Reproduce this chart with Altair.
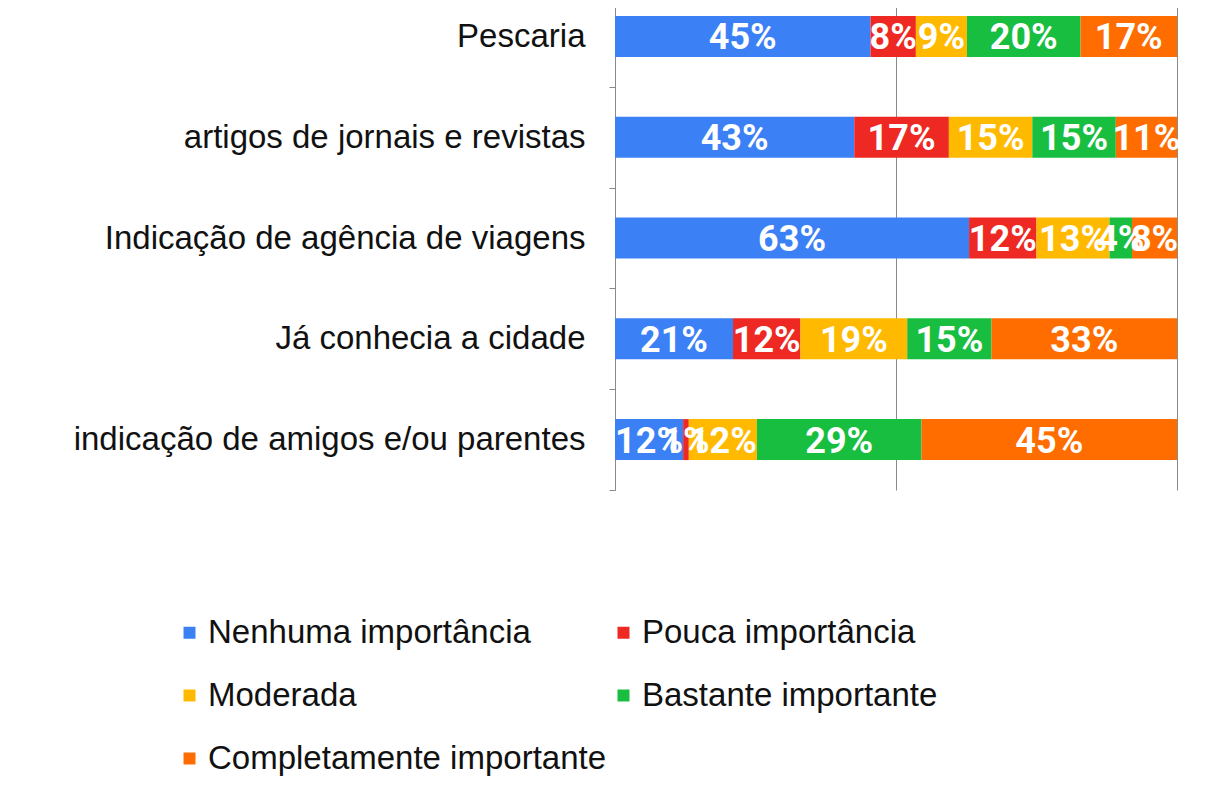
import altair as alt
import pandas as pd

categories = [
    "Pescaria",
    "artigos de jornais e revistas",
    "Indicação de agência de viagens",
    "Já conhecia a cidade",
    "indicação de amigos e/ou parentes",
]
levels = [
    "Nenhuma importância",
    "Pouca importância",
    "Moderada",
    "Bastante importante",
    "Completamente importante",
]
colors = ["#3C80F6", "#EE2822", "#FFBA00", "#17BE3F", "#FF6D00"]

nenhuma = [45, 43, 63, 21, 12]
pouca = [8, 17, 12, 12, 1]
moderada = [9, 15, 13, 19, 12]
bastante = [20, 15, 4, 15, 29]
completa = [17, 11, 8, 33, 45]

series = [nenhuma, pouca, moderada, bastante, completa]
rows = []
for li, (lev, vals) in enumerate(zip(levels, series)):
    for cat, v in zip(categories, vals):
        rows.append({"cat": cat, "level": lev, "idx": li, "value": v})
df = pd.DataFrame(rows)

FONT = "Liberation Sans"
LABEL_FONT = "Roboto"

base = (
    alt.Chart(df)
    .transform_stack(
        stack="value",
        groupby=["cat"],
        as_=["x0", "x1"],
        offset="normalize",
        sort=[alt.SortField("idx", order="ascending")],
    )
    .transform_calculate(mid="(datum.x0 + datum.x1) / 2", label="datum.value + '%'")
)

y_enc = alt.Y(
    "cat:N",
    sort=categories,
    scale=alt.Scale(paddingInner=0, paddingOuter=0),
    axis=alt.Axis(
        title=None,
        labelFont=FONT,
        labelFontSize=33,
        labelColor="#111111",
        labelLimit=700,
        labelPadding=24,
        tickSize=6,
        tickColor="#8a8a8a",
        domainColor="#8a8a8a",
        tickBand="extent",
        grid=False,
    ),
)

x_axis = alt.Axis(
    title=None,
    labels=False,
    ticks=False,
    domain=False,
    grid=True,
    values=[0, 0.5, 1],
    gridColor="#8a8a8a",
    gridWidth=1,
    gridOpacity=1,
)

bars = base.mark_bar(size=41).encode(
    y=y_enc,
    x=alt.X("x0:Q", scale=alt.Scale(domain=[0, 1], nice=False), axis=x_axis),
    x2="x1:Q",
    color=alt.Color(
        "level:N",
        scale=alt.Scale(domain=levels, range=colors),
        legend=alt.Legend(
            title=None,
            orient="none",
            direction="horizontal",
            legendX=-442,
            legendY=630,
            columns=2,
            symbolType="square",
            symbolSize=144,
            symbolStrokeWidth=0,
            labelFont=FONT,
            labelFontSize=33,
            labelColor="#111111",
            labelLimit=700,
            labelOffset=2,
            rowPadding=29,
            columnPadding=-8,
        ),
    ),
)

texts = base.mark_text(
    font=LABEL_FONT,
    fontSize=36,
    fontWeight="bold",
    color="white",
    baseline="middle",
    align="center",
    dy=2,
).encode(
    y=alt.Y("cat:N", sort=categories),
    x=alt.X("mid:Q"),
    text="label:N",
)

chart = (
    alt.layer(bars, texts)
    .properties(
        width=562,
        height=504,
        autosize=alt.AutoSizeParams(type="none"),
        padding={"left": 607, "top": -22, "right": 20, "bottom": 300},
        background="white",
    )
    .configure_view(stroke=None)
)

chart.save("out.html", embed_options={"renderer": "svg", "actions": False})
